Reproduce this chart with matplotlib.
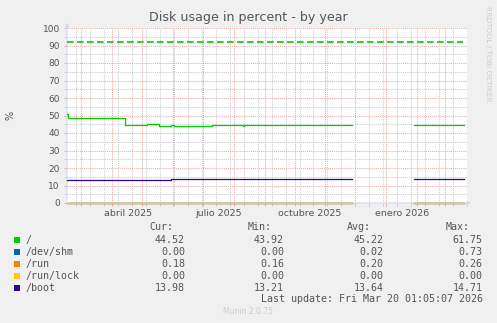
import datetime as dt
import numpy as np
import matplotlib
matplotlib.use("Agg")
import matplotlib.pyplot as plt
import matplotlib.dates as mdates
from matplotlib.patches import Rectangle

W, H = 497, 323
BG = "#f0f0f0"; TXT = "#555555"; FAINT = "#cccccc"
RED_GRID = "#eeaaaa"; GRAY_GRID = "#cccccc"; AXIS = "#cfd6f8"

# --- data (step changes, nan = no data) ---
ROOT_T = ["2025-02-14 17:00", "2025-02-15 12:00", "2025-04-13 18:00", "2025-05-06", "2025-05-18",
          "2025-05-30", "2025-06-02", "2025-07-10", "2025-08-10", "2025-08-11", "2025-11-28",
          "2026-01-29", "2026-03-20 01:05"]
ROOT_V = [51.0, 48.6, 44.4, 45.0, 43.9, 44.6, 43.9, 44.6, 43.9, 44.5, np.nan, 44.52, 44.52]

BOOT_T = ["2025-02-14 17:00", "2025-05-30", "2025-11-28", "2026-01-29", "2026-03-20 01:05"]
BOOT_V = [13.21, 13.98, np.nan, 13.98, 13.98]

SMALL_T = ["2025-02-14 17:00", "2025-11-28", "2026-01-29", "2026-03-20 01:05"]
SHM_V = [0.0, np.nan, 0.0, 0.0]
RUN_V = [0.18, np.nan, 0.18, 0.18]
LOCK_V = [0.0, np.nan, 0.0, 0.0]

WARN = 92

LABELS = ["/", "/dev/shm", "/run", "/run/lock", "/boot"]
COLORS = ["#00cc00", "#0066b3", "#ff8000", "#ffcc00", "#330099"]
CUR = [44.52, 0.00, 0.18, 0.00, 13.98]
MIN = [43.92, 0.00, 0.16, 0.00, 13.21]
AVG = [45.22, 0.02, 0.20, 0.00, 13.64]
MAX = [61.75, 0.73, 0.26, 0.00, 14.71]

MONTH_LABELS = [("2025-04-16 12:00", "abril 2025"), ("2025-07-16 12:00", "julio 2025"),
                ("2025-10-16 12:00", "octubre 2025"), ("2026-01-16 12:00", "enero 2026")]

START = dt.datetime(2025, 2, 14, 17, 0)
END = START + dt.timedelta(days=400)


def d(s):
    return mdates.date2num(dt.datetime.fromisoformat(s))


def fx(x):
    return x / W


def fy(y):
    return 1 - y / H


fig = plt.figure(figsize=(W / 100, H / 100), dpi=100)
fig.patch.set_facecolor(BG)
ax = fig.add_axes([fx(67), fy(203), 400 / W, 175 / H])
ax.set_facecolor("white")
for s in ax.spines.values():
    s.set_visible(False)

ax.set_xlim(mdates.date2num(START), mdates.date2num(END))
ax.set_ylim(0, 100)

# grid
months = [mdates.date2num(dt.datetime(2025 + (m - 1) // 12, (m - 1) % 12 + 1, 1)) for m in range(3, 16)]
biweek = [mdates.date2num(dt.datetime(2025, 2, 24) + dt.timedelta(days=14 * k)) for k in range(29)]
ax.set_xticks(months)
ax.set_xticks(biweek, minor=True)
ax.set_yticks(np.arange(0, 101, 10))
ax.set_yticks(np.arange(5, 100, 10), minor=True)
ax.set_xticklabels([])
ax.set_yticklabels([str(v) for v in range(0, 101, 10)])
ax.grid(which="major", color=RED_GRID, lw=0.75, ls=(0, (1, 1)))
ax.grid(which="minor", color=GRAY_GRID, lw=0.75, ls=(0, (1, 1)))
ax.set_axisbelow(True)
ax.tick_params(which="major", axis="both", color=RED_GRID, length=2, width=0.75)
ax.tick_params(which="minor", axis="both", color=GRAY_GRID, length=2, width=0.75)
ax.tick_params(axis="y", which="both", labelsize=6.5, labelcolor=TXT, pad=3.2)

for xs, lab in MONTH_LABELS:
    ax.text(d(xs), -10 / 175, lab, transform=ax.get_xaxis_transform(), ha="center", va="center",
            fontsize=6.8, color=TXT)

# axis arrows
ax.annotate("", xy=(0, 1.045), xytext=(0, 0), xycoords="axes fraction",
            arrowprops=dict(arrowstyle="-|>", color=AXIS, lw=0.8, mutation_scale=5), zorder=1)
ax.annotate("", xy=(1.017, 0), xytext=(0, 0), xycoords="axes fraction",
            arrowprops=dict(arrowstyle="-|>", color=AXIS, lw=0.8, mutation_scale=5), zorder=1)

# data
LW = 0.9
ax.step([d(t) for t in ROOT_T], ROOT_V, where="post", color=COLORS[0], lw=LW, clip_on=False, zorder=3)
ax.step([d(t) for t in SMALL_T], SHM_V, where="post", color=COLORS[1], lw=LW, clip_on=False, zorder=3)
ax.step([d(t) for t in SMALL_T], RUN_V, where="post", color=COLORS[2], lw=LW, clip_on=False, zorder=3)
ax.step([d(t) for t in SMALL_T], LOCK_V, where="post", color=COLORS[3], lw=LW, clip_on=False, zorder=3)
ax.step([d(t) for t in BOOT_T], BOOT_V, where="post", color=COLORS[4], lw=LW, clip_on=False, zorder=3)
ax.axhline(WARN, xmin=0, xmax=0.99, color=COLORS[0], lw=1.2, ls=(0, (4, 2)), zorder=3)

# titles
fig.text(fx(248.5), fy(18), "Disk usage in percent - by year", ha="center", va="center",
         fontsize=9.1, color=TXT)
fig.text(fx(10), fy(115), "%", rotation=90, ha="center", va="center", fontsize=7, color=TXT)
fig.text(fx(488), fy(54), "RRDTOOL / TOBI OETIKER", rotation=270, ha="center", va="center",
         fontsize=5.4, color=FAINT)

# legend
MONO = dict(family="DejaVu Sans Mono", fontsize=7.2, color=TXT, va="center")
for xr, hd in zip([173.3, 271.7, 370.7, 470], ["Cur:", "Min:", "Avg:", "Max:"]):
    fig.text(fx(xr), fy(227.3), hd, ha="right", **MONO)
for i, lab in enumerate(LABELS):
    y = 240 + i * 11.9
    fig.patches.append(Rectangle((fx(14), fy(y + 3)), 6 / W, 6 / H, transform=fig.transFigure,
                                 fc=COLORS[i], ec="none"))
    fig.text(fx(26), fy(y), lab, ha="left", **MONO)
    for xr, vals in zip([185, 284, 383.3, 482.7], [CUR, MIN, AVG, MAX]):
        fig.text(fx(xr), fy(y), f"{vals[i]:.2f}", ha="right", **MONO)
fig.text(fx(482.7), fy(299.5), "Last update: Fri Mar 20 01:05:07 2026", ha="right", **MONO)
fig.text(fx(248), fy(312), "Munin 2.0.75", ha="center", va="center", fontsize=5.5, color=FAINT)

fig.savefig("out.png", dpi=100, facecolor=BG)
